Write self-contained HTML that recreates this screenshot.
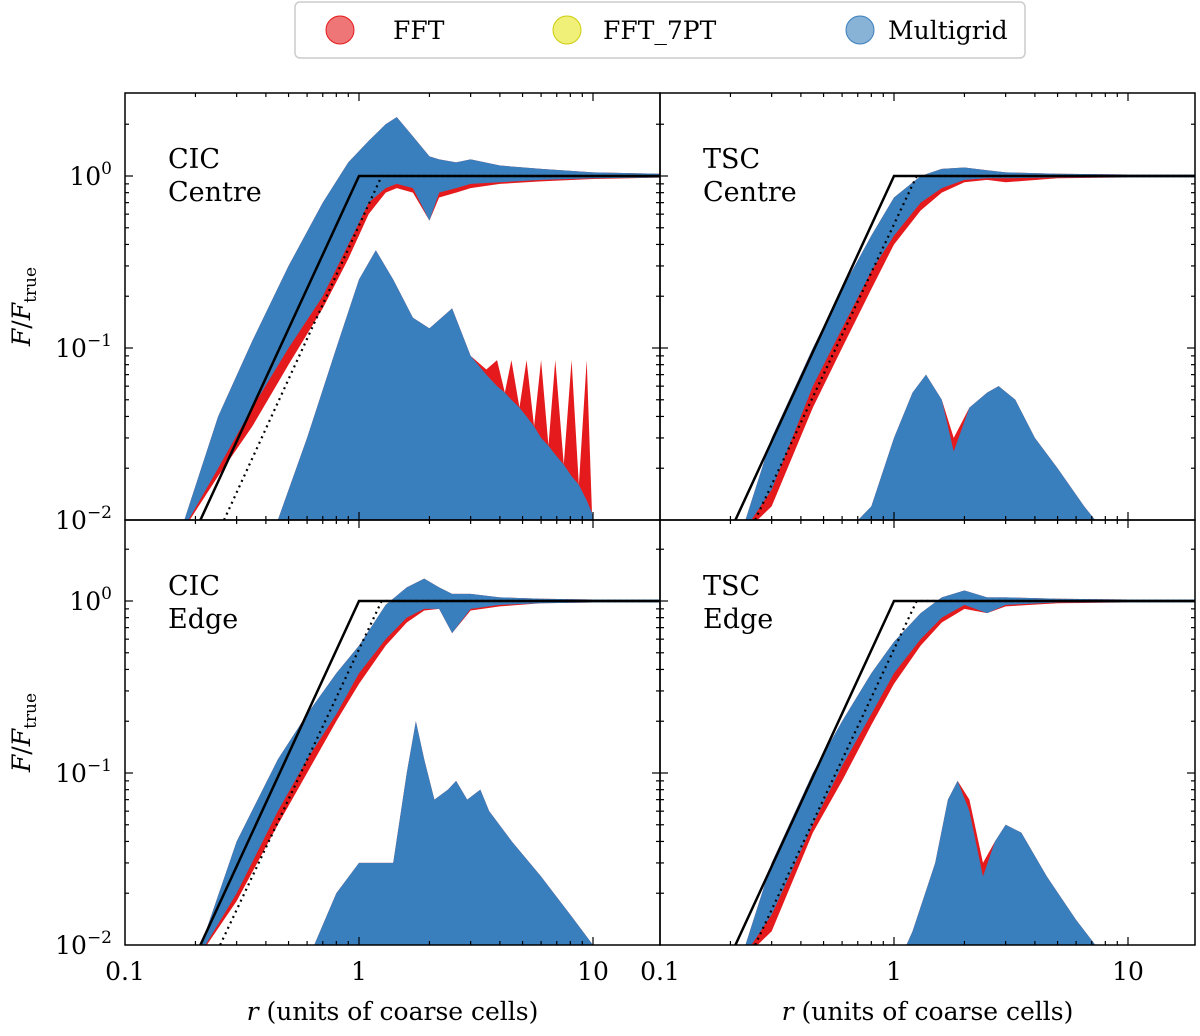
<!DOCTYPE html>
<html><head><meta charset="utf-8"><style>
body{margin:0;background:#fff;}
svg text{font-family:"DejaVu Serif","Liberation Serif",serif;fill:#000;}
</style></head><body>
<svg id="chart" width="1200" height="1031" xmlns="http://www.w3.org/2000/svg">
<g>
<rect x="295" y="2" width="730" height="56" rx="5" fill="#fff" stroke="#ccc" stroke-width="1.5"/>
<circle cx="340" cy="30" r="14" fill="#e41a1c" fill-opacity="0.6" stroke="#e41a1c"/>
<text x="393" y="39" font-size="25">FFT</text>
<circle cx="567" cy="30" r="14" fill="#e6e620" fill-opacity="0.6" stroke="#cccc10"/>
<text x="603" y="39" font-size="25">FFT_7PT</text>
<circle cx="860" cy="30" r="14" fill="#3a7fbd" fill-opacity="0.6" stroke="#3a7fbd"/>
<text x="888" y="39" font-size="25">Multigrid</text>
</g>
</svg>
<script>
const cicCentreBandR=[0.17,0.25,0.35,0.5,0.7,0.9,1.1,1.3,1.45,1.7,2.0,2.2,2.6,3,4,6,10,20];
const cicCentreBandHi=[0.008,0.04,0.11,0.3,0.7,1.2,1.6,2.0,2.2,1.7,1.3,1.25,1.2,1.25,1.15,1.1,1.05,1.03];
const cicCentreBandBlueLo=[0.008,0.02,0.045,0.1,0.2,0.4,0.7,0.85,0.9,0.85,0.55,0.8,0.85,0.9,0.92,0.95,0.97,0.98];
const cicCentreBandRedLo=[0.008,0.018,0.035,0.08,0.17,0.33,0.6,0.8,0.85,0.8,0.55,0.75,0.8,0.85,0.9,0.93,0.96,0.98];
const cicCentreErrR=[0.45,0.6,0.8,1.0,1.18,1.4,1.7,2.0,2.5,3,3.5,3.89,4.2,4.48,4.85,5.2,5.6,6.0,6.45,6.9,7.5,8.1,8.7,9.4,9.9,10.2];
const cicCentreErrBlue=[0.01,0.03,0.1,0.25,0.37,0.25,0.15,0.13,0.17,0.09,0.07,0.06,0.055,0.05,0.045,0.04,0.035,0.03,0.027,0.024,0.021,0.018,0.016,0.013,0.011,0.009];
const cicCentreErrRed=[0.01,0.03,0.1,0.25,0.37,0.25,0.15,0.13,0.17,0.09,0.075,0.085,0.055,0.085,0.045,0.085,0.035,0.085,0.027,0.085,0.021,0.085,0.016,0.085,0.011,0.009];

const tscCentreBandR=[0.22,0.3,0.45,0.6,0.8,1.0,1.3,1.6,2,2.5,3,5,10,20];
const tscCentreBandHi=[0.008,0.03,0.1,0.22,0.45,0.75,1.0,1.1,1.12,1.08,1.05,1.03,1.02,1.02];
const tscCentreBandBlueLo=[0.008,0.015,0.06,0.13,0.28,0.45,0.7,0.85,0.95,0.97,0.97,0.98,0.98,0.98];
const tscCentreBandRedLo=[0.008,0.012,0.045,0.1,0.22,0.4,0.63,0.8,0.92,0.95,0.92,0.97,0.98,0.98];
const tscCentreErrR=[0.6,0.8,1.0,1.2,1.37,1.6,1.8,2.1,2.5,2.8,3.3,4,5,6.5,7.7,8];
const tscCentreErrBlue=[0.008,0.012,0.03,0.055,0.07,0.05,0.025,0.045,0.055,0.06,0.05,0.03,0.02,0.012,0.009,0.008];
const tscCentreErrRed=[0.008,0.012,0.03,0.055,0.07,0.05,0.03,0.045,0.055,0.06,0.05,0.03,0.02,0.012,0.009,0.008];

const cicEdgeBandR=[0.2,0.3,0.45,0.6,0.8,1.0,1.3,1.6,1.9,2.2,2.5,3,4,6,10,20];
const cicEdgeBandHi=[0.008,0.04,0.12,0.22,0.38,0.55,0.95,1.2,1.35,1.2,1.1,1.1,1.05,1.03,1.02,1.02];
const cicEdgeBandBlueLo=[0.008,0.02,0.06,0.12,0.22,0.38,0.6,0.8,0.9,0.9,0.65,0.9,0.95,0.97,0.98,0.98];
const cicEdgeBandRedLo=[0.008,0.018,0.05,0.1,0.2,0.33,0.55,0.75,0.88,0.9,0.65,0.88,0.93,0.97,0.98,0.98];
const cicEdgeErrR=[0.6,0.8,1.0,1.3,1.4,1.6,1.75,1.9,2.1,2.4,2.6,2.9,3.3,3.6,4.5,6,8,10,10.2];
const cicEdgeErrBlue=[0.008,0.02,0.03,0.03,0.03,0.1,0.2,0.12,0.07,0.08,0.09,0.07,0.08,0.06,0.04,0.025,0.015,0.01,0.008];
const cicEdgeErrRed=[0.008,0.02,0.03,0.03,0.03,0.1,0.2,0.12,0.07,0.08,0.09,0.07,0.08,0.06,0.04,0.025,0.015,0.01,0.008];

const tscEdgeBandR=[0.22,0.3,0.45,0.6,0.8,1.0,1.3,1.6,2,2.5,3,5,10,20];
const tscEdgeBandHi=[0.008,0.03,0.1,0.2,0.38,0.58,0.85,1.05,1.15,1.05,1.05,1.03,1.02,1.02];
const tscEdgeBandBlueLo=[0.008,0.015,0.05,0.11,0.22,0.38,0.6,0.8,0.95,0.85,0.95,0.98,0.98,0.98];
const tscEdgeBandRedLo=[0.008,0.012,0.045,0.09,0.19,0.33,0.55,0.75,0.9,0.85,0.93,0.97,0.98,0.98];
const tscEdgeErrR=[1.05,1.2,1.5,1.7,1.87,2.1,2.4,2.7,3.0,3.5,4.5,6,7.7,8];
const tscEdgeErrBlue=[0.008,0.012,0.03,0.07,0.09,0.06,0.025,0.04,0.05,0.045,0.025,0.014,0.009,0.008];
const tscEdgeErrRed=[0.008,0.012,0.03,0.07,0.09,0.07,0.03,0.04,0.05,0.045,0.025,0.014,0.009,0.008];

const solidR=[0.21,1.0,25];
const solidV=[0.01,1,1];
const dottedCicCentreR=[0.265,1.25,25];
const dottedR=[0.255,1.25,25];
const dottedV=[0.01,1,1];
const xTickLabels=["0.1","1","10"];
const yTickExps=["0","−1","−2"];

const NS="http://www.w3.org/2000/svg";
const svg=document.getElementById('chart');
const DEC_X=234, DEC_Y=172;
function mk(tag,attrs,parent){const e=document.createElementNS(NS,tag);for(const k in attrs)e.setAttribute(k,attrs[k]);(parent||svg).appendChild(e);return e;}

const panels=[
 {name:'cic-centre',x0:125,x1:660,yb:520,yt:93,l1:'CIC',l2:'Centre',R:cicCentreBandR,hi:cicCentreBandHi,bl:cicCentreBandBlueLo,rl:cicCentreBandRedLo,eR:cicCentreErrR,eB:cicCentreErrBlue,eRd:cicCentreErrRed,dR:dottedCicCentreR,left:true,bottom:false},
 {name:'tsc-centre',x0:660,x1:1195,yb:520,yt:93,l1:'TSC',l2:'Centre',R:tscCentreBandR,hi:tscCentreBandHi,bl:tscCentreBandBlueLo,rl:tscCentreBandRedLo,eR:tscCentreErrR,eB:tscCentreErrBlue,eRd:tscCentreErrRed,dR:dottedR,left:false,bottom:false},
 {name:'cic-edge',x0:125,x1:660,yb:945,yt:520,l1:'CIC',l2:'Edge',R:cicEdgeBandR,hi:cicEdgeBandHi,bl:cicEdgeBandBlueLo,rl:cicEdgeBandRedLo,eR:cicEdgeErrR,eB:cicEdgeErrBlue,eRd:cicEdgeErrRed,dR:dottedR,left:true,bottom:true},
 {name:'tsc-edge',x0:660,x1:1195,yb:945,yt:520,l1:'TSC',l2:'Edge',R:tscEdgeBandR,hi:tscEdgeBandHi,bl:tscEdgeBandBlueLo,rl:tscEdgeBandRedLo,eR:tscEdgeErrR,eB:tscEdgeErrBlue,eRd:tscEdgeErrRed,dR:dottedR,left:false,bottom:true}
];
const defs=mk('defs',{});
panels.forEach((p,i)=>{
 const xs=r=>p.x0+(Math.log10(r)+1)*DEC_X;
 const ys=v=>p.yb-(Math.log10(v)+2)*DEC_Y;
 const cp=mk('clipPath',{id:'clip'+i},defs);
 mk('rect',{x:p.x0,y:p.yt,width:p.x1-p.x0,height:p.yb-p.yt},cp);
 const g=mk('g',{'clip-path':'url(#clip'+i+')'});
 
 
 function band(R,top,bot,color,name,op){
  let pts=R.map((r,k)=>xs(r)+','+ys(top[k]));
  for(let k=R.length-1;k>=0;k--)pts.push(xs(R[k])+','+ys(bot[k]));
  const e=mk('polygon',{points:pts.join(' '),fill:color,'fill-opacity':op},g);
  
  
 }
 band(p.R,p.hi,p.rl,'#e41a1c',p.name+'-fft-band',1);
 band(p.R,p.hi,p.bl,'#3a7fbd',p.name+'-multigrid-band',1);
 const floor=p.eR.map(()=>0.005);
 band(p.eR,p.eRd,floor,'#e41a1c',p.name+'-fft-error',1);
 band(p.eR,p.eB,floor,'#3a7fbd',p.name+'-multigrid-error',1);
 const sl=mk('polyline',{points:solidR.map((r,k)=>xs(r)+','+ys(solidV[k])).join(' '),fill:'none',stroke:'#000','stroke-width':2.5},g);
 
 
 const dl=mk('polyline',{points:p.dR.map((r,k)=>xs(r)+','+ys(dottedV[k])).join(' '),fill:'none',stroke:'#000','stroke-width':2.2,'stroke-dasharray':'2,4'},g);
 
 
 const fr=mk('rect',{x:p.x0,y:p.yt,width:p.x1-p.x0,height:p.yb-p.yt,fill:'none',stroke:'#000','stroke-width':1.5});
 
 
 for(let d=-1;d<=1;d++){for(let m=1;m<=9;m++){
  const r=m*Math.pow(10,d);const x=xs(r);if(x<=p.x0+1||x>=p.x1-1)continue;
  const L=m===1?8:4;
  mk('line',{x1:x,x2:x,y1:p.yb,y2:p.yb-L,stroke:'#000','stroke-width':1.2});
  mk('line',{x1:x,x2:x,y1:p.yt,y2:p.yt+L,stroke:'#000','stroke-width':1.2});
 }}
 for(let d=-3;d<=0;d++){for(let m=1;m<=9;m++){
  const v=m*Math.pow(10,d);const y=ys(v);if(y>=p.yb-1||y<=p.yt+1)continue;
  const L=m===1?8:4;
  mk('line',{x1:p.x0,x2:p.x0+L,y1:y,y2:y,stroke:'#000','stroke-width':1.2});
  mk('line',{x1:p.x1,x2:p.x1-L,y1:y,y2:y,stroke:'#000','stroke-width':1.2});
 }}
 const t1=mk('text',{x:p.x0+43,y:p.yt+75,'font-size':27});t1.textContent=p.l1;
 
 const t2=mk('text',{x:p.x0+43,y:p.yt+108,'font-size':27});t2.textContent=p.l2;
 
 if(p.bottom){
  xTickLabels.forEach((s,k)=>{const t=mk('text',{x:p.x0+k*DEC_X,y:980,'font-size':25,'text-anchor':'middle'});t.textContent=s;
   });
  const xl=mk('text',{x:(p.x0+p.x1)/2,y:1020,'font-size':25,'text-anchor':'middle'});
  xl.innerHTML='<tspan font-style="italic">r</tspan> (units of coarse cells)';
  
 }
 if(p.left){
  yTickExps.forEach((s,k)=>{const y=ys(Math.pow(10,-k));const t=mk('text',{x:112,y:y+9,'font-size':25,'text-anchor':'end'});
   t.innerHTML='10<tspan dy="-11" font-size="17">'+s+'</tspan>';
   });
  const cy=(p.yt+p.yb)/2;
  const yl=mk('text',{x:30,y:cy,'font-size':25,'text-anchor':'middle',transform:'rotate(-90 30 '+cy+')'});
  yl.innerHTML='<tspan font-style="italic">F</tspan>/<tspan font-style="italic">F</tspan><tspan dy="6" font-size="17">true</tspan>';
  
 }
});
</script>
</body></html>
